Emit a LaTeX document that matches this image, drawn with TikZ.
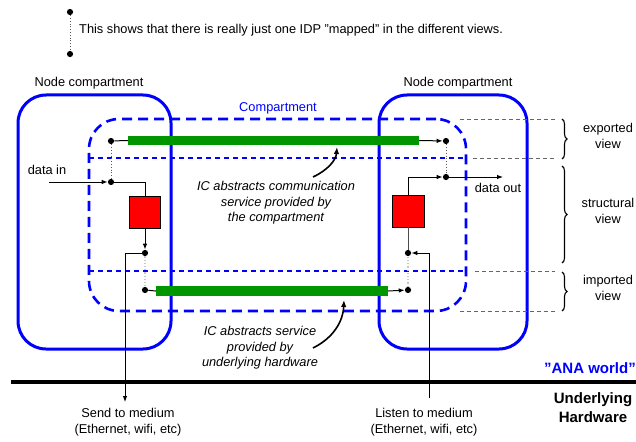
\documentclass[tikz,border=0pt]{standalone}
\usepackage{fontspec}
\setmainfont{Liberation Sans}
\usetikzlibrary{arrows.meta,decorations.pathreplacing}

\definecolor{anablue}{RGB}{0,0,255}
\definecolor{icgreen}{RGB}{0,150,0}
\definecolor{boxred}{RGB}{255,0,0}

% straight double quote
\newcommand{\sq}{\char34\relax}

\tikzset{
  txt/.style={font=\fontsize{12.8}{15.5}\selectfont, inner sep=0pt, align=center},
  ictxt/.style={txt, font=\fontsize{12.8}{15.5}\selectfont\itshape},
  nodebox/.style={draw=anablue, line width=3pt, rounded corners=28pt, minimum width=153pt, minimum height=254pt, inner sep=0pt},
  compbox/.style={draw=anablue, line width=2.6pt, dash pattern=on 10pt off 6pt, rounded corners=30pt, minimum width=377pt, minimum height=192pt, inner sep=0pt},
  viewline/.style={draw=anablue, line width=1.2pt, dash pattern=on 5pt off 4pt},
  guide/.style={draw=gray!80!black, line width=0.9pt, dash pattern=on 4pt off 3pt},
  idp/.style={circle, fill=black, minimum size=6.2pt, inner sep=0pt},
  icbar/.style={fill=icgreen, inner sep=0pt},
  proc/.style={draw=black, fill=boxred, line width=0.8pt, minimum width=31pt, minimum height=32pt, inner sep=0pt},
  wire/.style={draw=black, line width=1pt},
  arr/.style={wire, -{Latex[length=6pt,width=4.5pt]}},
  samedp/.style={draw=gray!70!black, line width=0.8pt, dotted},
  samedplight/.style={draw=gray!45, line width=1.2pt, dotted},
  pointer/.style={draw=black, line width=1.6pt, -{Latex[length=7pt,width=5.5pt]}},
  viewbrace/.style={draw=black, line width=1.1pt, decorate, decoration={brace, amplitude=5pt}},
}

\begin{document}
\begin{tikzpicture}[x=1pt, y=-1pt]
\useasboundingbox (0,0) rectangle (636,441);

% legend
\node[idp] (lg1) at (70,12) {};
\node[idp] (lg2) at (70,54) {};
\draw[samedp] (lg1) -- (lg2);
\node[txt, anchor=west] (legtxt) at (79,30) {This shows that there is really just one IDP \sq mapped\sq{} in the different views.};

% node compartments
\node[nodebox] (ncL) at (94.5,222) {};
\node[nodebox, minimum width=148pt] (ncR) at (453,222) {};
\node[txt] (ncLlbl) at (89,83) {Node compartment};
\node[txt] (ncRlbl) at (458,83) {Node compartment};

% compartment and its views
\node[compbox] (comp) at (277.5,215) {};
\node[txt, text=anablue] (complbl) at (278,108) {Compartment};
\coordinate (vexL) at (89,158);
\coordinate (vexR) at (466,158);
\coordinate (vimL) at (89,271);
\coordinate (vimR) at (466,271);
\draw[viewline] (vexL) -- (vexR);
\draw[viewline] (vimL) -- (vimR);

% view guide lines and braces
\coordinate (g1a) at (460,119); \coordinate (g1b) at (555,119);
\coordinate (g2a) at (473,158); \coordinate (g2b) at (555,158);
\coordinate (g3a) at (475,271); \coordinate (g3b) at (555,271);
\coordinate (g4a) at (460,311); \coordinate (g4b) at (555,311);
\draw[guide] (g1a) -- (g1b);
\draw[guide] (g2a) -- (g2b);
\draw[guide] (g3a) -- (g3b);
\draw[guide] (g4a) -- (g4b);
\coordinate (b1a) at (562,119); \coordinate (b1b) at (562,159);
\coordinate (b2a) at (562,166); \coordinate (b2b) at (562,263);
\coordinate (b3a) at (562,272); \coordinate (b3b) at (562,311);
\draw[viewbrace] (b1a) -- (b1b);
\draw[viewbrace] (b2a) -- (b2b);
\draw[viewbrace] (b3a) -- (b3b);
\node[txt] (vexp) at (608,136) {exported\\view};
\node[txt] (vstr) at (608,211) {structural\\view};
\node[txt] (vimp) at (608,288) {imported\\view};

% information channels
\node[icbar, minimum width=291pt, minimum height=9pt] (gtop) at (273.5,140.5) {};
\node[icbar, minimum width=232pt, minimum height=10pt] (gbot) at (272,291) {};

% IDPs
\node[idp] (d1) at (111,141) {};
\node[idp] (d2) at (111,182) {};
\node[idp] (d3) at (145,253) {};
\node[idp] (d4) at (145,290) {};
\node[idp] (d5) at (446,141) {};
\node[idp] (d6) at (446,177) {};
\node[idp] (d7) at (408,253) {};
\node[idp] (d8) at (408,290) {};

% processing bricks
\node[proc] (redL) at (145,212) {};
\node[proc, minimum width=32pt] (redR) at (408,211) {};

% left side wiring
\draw[wire] (d1) -- (gtop.west);
\draw[samedp] (d1) -- (d2);
\coordinate (dinsrc) at (49,182);
\draw[arr] (dinsrc) -- (d2);
\node[txt] (dinlbl) at (47,170) {data in};
\draw[wire] (d2) -| (redL.north);
\draw[arr] (redL.south) -- (d3);
\coordinate (send) at (125,402);
\draw[arr] (d3) -| (send);
\draw[samedplight] (d3) -- (d4);
\draw[wire] (d4) -- (gbot.west);

% right side wiring
\draw[arr] (gtop.east) -- (d5);
\draw[samedp] (d5) -- (d6);
\draw[arr] (redR.north) |- (d6);
\coordinate (doutdst) at (503,177);
\draw[arr] (d6) -- (doutdst);
\node[txt] (doutlbl) at (498,188) {data out};
\draw[arr] (gbot.east) -- (d8);
\draw[samedplight] (d8) -- (d7);
\draw[draw=gray!60!black, line width=1pt] (redR.south) -- (d7);
\coordinate (listen) at (429,398);
\draw[arr] (listen) |- (d7);

% annotations
\node[ictxt] (ic1) at (276,203) {IC abstracts communication\\service provided by\\the compartment};
\coordinate (p1s) at (313,177);
\coordinate (p1e) at (337,147);
\draw[pointer] (p1s) .. controls (328,170) and (336,160) .. (p1e);
\node[ictxt] (ic2) at (260,348) {IC abstracts service\\provided by\\underlying hardware};
\coordinate (p2s) at (313,348);
\coordinate (p2e) at (344,300);
\draw[pointer] (p2s) .. controls (333,338) and (343,322) .. (p2e);

% world boundary
\coordinate (hwL) at (11,382);
\coordinate (hwR) at (636,382);
\draw[line width=4pt] (hwL) -- (hwR);
\node[txt, font=\fontsize{15}{18}\selectfont\bfseries, text=anablue, anchor=east] (ana) at (636,368) {\sq ANA world\sq};
\node[txt, font=\fontsize{15}{19}\selectfont\bfseries] (uhw) at (593,408) {Underlying\\Hardware};
\node[txt] (sendlbl) at (128,422) {Send to medium\\(Ethernet, wifi, etc)};
\node[txt] (listenlbl) at (424,422) {Listen to medium\\(Ethernet, wifi, etc)};
\end{tikzpicture}
\end{document}
